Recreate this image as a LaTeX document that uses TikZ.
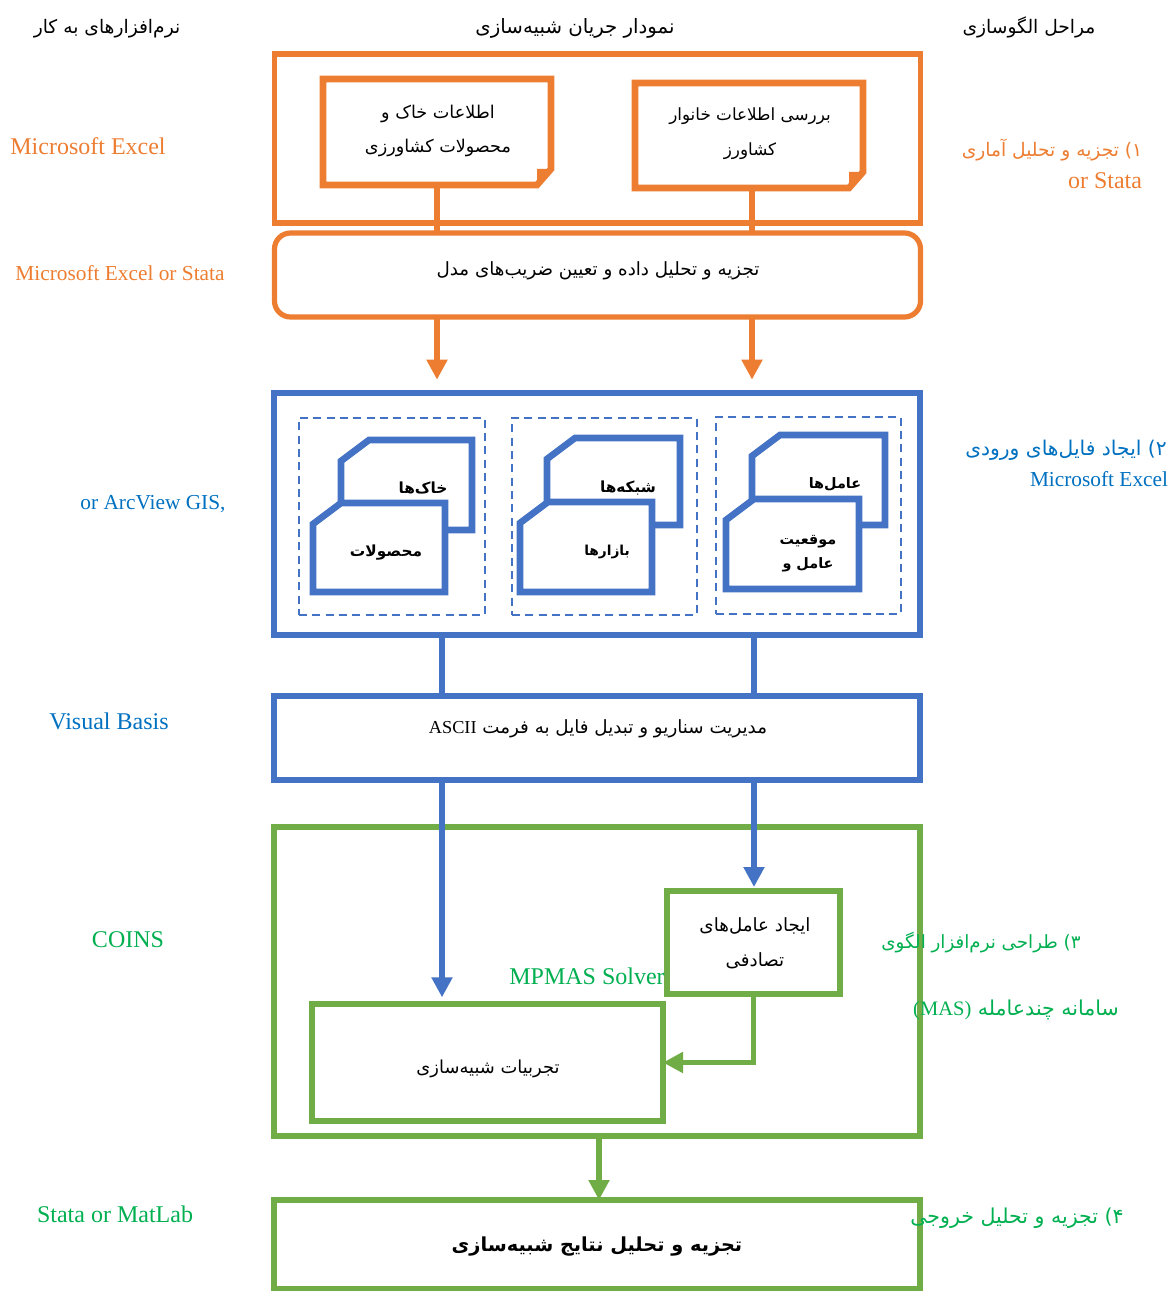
\documentclass[tikz,border=0pt]{standalone}
\usepackage{fontspec}
\usepackage{xcolor}
\setmainfont{Liberation Serif}
\newfontfamily\arabicfont[Script=Arabic]{DejaVu Sans}
\TeXXeTstate=1
\usetikzlibrary{
  arrows.meta,
  calc
}
\definecolor{orangeline}{HTML}{ED7D31}
\definecolor{blueline}{HTML}{4472C4}
\definecolor{greenline}{HTML}{70AD47}
\definecolor{bluetext}{HTML}{0070C0}
\definecolor{greentext}{HTML}{00B050}
\newcommand{\fa}[1]{{\arabicfont\beginR #1\endR}}
\newcommand{\en}[1]{\beginL{\rmfamily #1}\endL{}}
\newcommand{\notepath}[1]{
  \draw [orangebox, line width=5pt] (#1.north west) -- (#1.north east) -- ($(#1.south east)+(0,-16)$)
    -- ($(#1.south east)+(-14,0)$) -- (#1.south west) -- cycle;
  \fill [orangeline] ($(#1.south east)+(0,-16)$) -- ($(#1.south east)+(-14,0)$) -- ($(#1.south east)+(-14,-16)$) -- cycle;
}
\newcommand{\filepath}[1]{
  \draw [bluebox, line width=5pt] ($(#1.north west)+(28,0)$) -- (#1.north east) -- (#1.south east)
    -- (#1.south west) -- ($(#1.north west)+(0,21)$) -- cycle;
}
\tikzset{
  boxsize/.style 2 args={minimum width=#1*0.75pt, minimum height=#2*0.75pt},
  hollow/.style={inner sep=0pt, outer sep=0pt},
  block/.style={draw, line width=3.9pt, inner sep=0pt, outer sep=0pt, fill=white},
  orangebox/.style={block, draw=orangeline},
  bluebox/.style={block, draw=blueline},
  greenbox/.style={block, draw=greenline},
  dashbox/.style={draw=blueline, line width=1.5pt, dash pattern=on 6pt off 4pt, inner sep=0pt, outer sep=0pt},
  flow/.style={line width=4pt},
  flowtip/.style={flow, -{Triangle[width=15pt,length=15pt]}},
  head/.style={font=\fontsize{14}{16}\selectfont},
  big/.style={font=\fontsize{18}{20}\selectfont},
  small/.style={font=\fontsize{16}{20}\selectfont},
  intext/.style={font=\fontsize{13.7}{15}\selectfont, align=center},
  boldtext/.style={font=\fontsize{11.5}{14}\selectfont\bfseries, align=center}
}

\begin{document}
\begin{tikzpicture}[x=0.75pt, y=-0.75pt]
  \useasboundingbox (0,0) rectangle (1171,1291);
  % orange part
  \node (survey) at (597.5,138.5) [orangebox, boxsize={646}{169}] {};
  \node (soil) at (437,132) [hollow, boxsize={228}{106}] {};
  \node (farmer) at (749,135.5) [hollow, boxsize={228}{105}] {};
  \notepath{soil}
  \notepath{farmer}
  \coordinate (ocol) at (752,0);
  \node (model) at (597.5,275) [orangebox, rounded corners=12pt, boxsize={646}{84}] {};
  \draw [flow, orangeline]
    (soil.south) -- (soil.south |- model.north)
    (ocol |- farmer.south) -- (ocol |- model.north);
  % blue part
  \node (input) at (597,514) [bluebox, boxsize={646}{242}] {};
  \coordinate (lcol) at (442,0);
  \coordinate (rcol) at (754,0);
  \draw [flowtip, orangeline, shorten >=10pt] (soil.south |- model.south) -- (soil.south |- input.north);
  \draw [flowtip, orangeline, shorten >=10pt] (ocol |- model.south) -- (ocol |- input.north);
  \node (group1) at (392,516.5) [dashbox, boxsize={186}{197}] {};
  \node (group2) at (604.5,516.5) [dashbox, boxsize={185}{197}] {};
  \node (group3) at (808.5,515.5) [dashbox, boxsize={185}{197}] {};
  \node (soils) at (406.5,485) [hollow, boxsize={131}{90}] {};
  \node (crops) at (379,547.5) [hollow, boxsize={132}{89}] {};
  \node (nets) at (613.5,481.5) [hollow, boxsize={133}{87}] {};
  \node (markets) at (586,547) [hollow, boxsize={132}{90}] {};
  \node (agents) at (818.5,480) [hollow, boxsize={133}{90}] {};
  \node (place) at (792.5,544) [hollow, boxsize={133}{90}] {};
  \filepath{soils}
  \filepath{crops}
  \filepath{nets}
  \filepath{markets}
  \filepath{agents}
  \filepath{place}
  \node (scenario) at (597,738) [bluebox, boxsize={646}{84}] {};
  \draw [flow, blueline]
    (lcol |- input.south) -- (lcol |- scenario.north)
    (rcol |- input.south) -- (rcol |- scenario.north);
  % green part
  \node (mas) at (597,981.5) [greenbox, boxsize={646}{309}] {};
  \node (random) at (753.5,942.5) [greenbox, boxsize={173}{103}] {};
  \node (runs) at (487.5,1062.5) [greenbox, boxsize={351}{117}] {};
  \node (results) at (597,1244.5) [greenbox, boxsize={646}{89}] {};
  \draw [flowtip, blueline, shorten >=5pt] (lcol |- scenario.south) -- (lcol |- runs.north);
  \draw [flowtip, blueline, shorten >=3pt] (rcol |- scenario.south) -- (rcol |- random.north);
  \draw [flowtip, greenline] (random.south) |- (runs.east);
  \draw [flowtip, greenline] (599,0 |- mas.south) -- (599,0 |- results.north);
  % headers
  \node (softhead) at (107,29) [head] {\fa{نرم‌افزارهای به کار}};
  \node (flowhead) at (575,28) [font=\fontsize{14.8}{16}\selectfont] {\fa{نمودار جریان شبیه‌سازی}};
  \node (stephead) at (1029,27) [head] {\fa{مراحل الگوسازی}};
  % texts in the boxes
  \node (soiltext) at (438,131) [font=\fontsize{13.2}{15}\selectfont, align=center] {\fa{اطلاعات خاک و}\\[11pt]\fa{محصولات کشاورزی}};
  \node (farmertext) at (750,134) [font=\fontsize{12.6}{15}\selectfont, align=center] {\fa{بررسی اطلاعات خانوار}\\[11.5pt]\fa{کشاورز}};
  \node (modeltext) at (598,271) [intext] {\fa{تجزیه و تحلیل داده و تعیین ضریب‌های مدل}};
  \node (soilstext) at (423,488) [boldtext] {\fa{خاک‌ها}};
  \node (cropstext) at (386,553) [boldtext] {\fa{محصولات}};
  \node (netstext) at (628,488) [boldtext] {\fa{شبکه‌ها}};
  \node (marketstext) at (607,552) [font=\fontsize{10.3}{14}\selectfont\bfseries] {\fa{بازارها}};
  \node (agentstext) at (835,484) [font=\fontsize{10.8}{14}\selectfont\bfseries] {\fa{عامل‌ها}};
  \node (placetext) at (808,554) [font=\fontsize{10.8}{14}\selectfont\bfseries, align=center] {\fa{موقعیت}\\[4pt]\fa{عامل و}};
  \node (scenariotext) at (598,729) [intext] {\fa{مدیریت سناریو و تبدیل فایل به فرمت \en{ASCII}}};
  \node (randomtext) at (755,943) [intext] {\fa{ایجاد عامل‌های}\\[11pt]\fa{تصادفی}};
  \node (runstext) at (488,1069) [font=\fontsize{13.4}{15}\selectfont] {\fa{تجربیات شبیه‌سازی}};
  \node (resultstext) at (597,1247) [font=\fontsize{14.5}{18}\selectfont\bfseries] {\fa{تجزیه و تحلیل نتایج شبیه‌سازی}};
  % software names
  \node (excel) at (88,146) [big, orangeline] {Microsoft Excel};
  \node (stata) at (120,273) [small, orangeline] {Microsoft Excel or Stata};
  \node (arcview) at (153,504) [small, bluetext] {or ArcView GIS,};
  \node (basis) at (109,721) [big, bluetext] {Visual Basis};
  \node (coins) at (128,940) [big, greentext] {COINS};
  \node (solver) at (587,976) [big, greentext] {MPMAS Solver};
  \node (matlab) at (115,1214) [big, greentext] {Stata or MatLab};
  % modelling steps
  \node (step1) at (1052,150) [head, orangeline] {\fa{۱) تجزیه و تحلیل آماری}};
  \node (step1b) at (1105,181) [big, orangeline] {or Stata};
  \node (step2) at (1066,450) [font=\fontsize{15.2}{16}\selectfont, bluetext] {\fa{۲) ایجاد فایل‌های ورودی}};
  \node (step2b) at (1099,479) [small, bluetext] {Microsoft Excel};
  \node (step3) at (981,943) [font=\fontsize{13.7}{16}\selectfont, greentext] {\fa{۳) طراحی نرم‌افزار الگوی}};
  \node (step3b) at (1016,1010) [font=\fontsize{15.4}{16}\selectfont, greentext] {\fa{سامانه چندعامله \en{(MAS)}}};
  \node (step4) at (1017,1218) [font=\fontsize{15.4}{16}\selectfont, greentext] {\fa{۴) تجزیه و تحلیل خروجی}};
\end{tikzpicture}
\end{document}
